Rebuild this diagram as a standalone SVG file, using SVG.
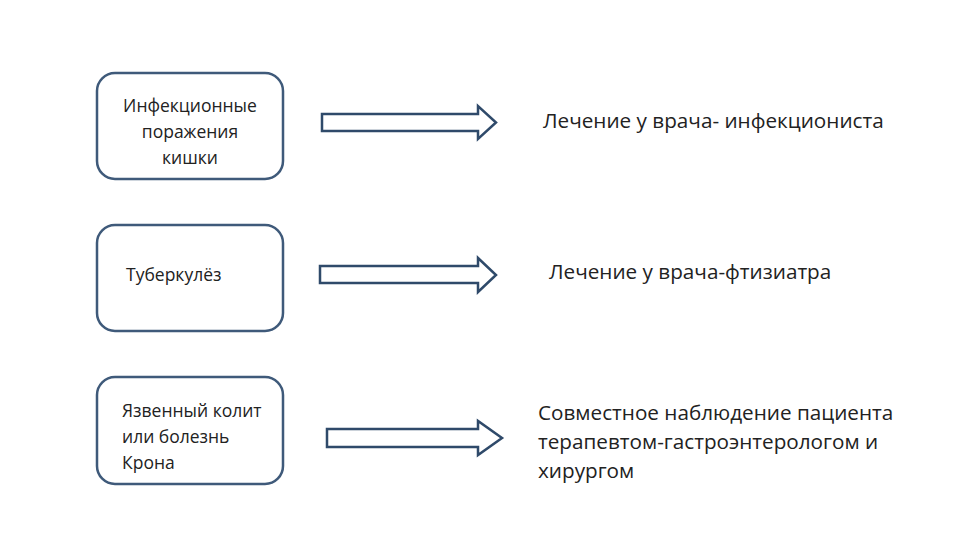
<svg xmlns="http://www.w3.org/2000/svg" width="960" height="540" viewBox="0 0 960 540">
<style>
.box{fill:#fff;stroke:#3f5a7a;stroke-width:2.5}
.arr{fill:#fff;stroke:#2f4a6a;stroke-width:2.5;stroke-linejoin:miter}
text{font-family:"Open Sans","Liberation Sans",sans-serif;fill:#222}
.s{font-size:17.5px}
.b{font-size:20.7px}
</style>
<rect width="960" height="540" fill="#fff"/>
<g id="n1"><rect class="box" x="97" y="73" width="186" height="106" rx="18"/>
<text class="s" text-anchor="middle"><tspan x="190" y="112">Инфекционные</tspan><tspan x="190" y="138">поражения</tspan><tspan x="190" y="164">кишки</tspan></text></g>
<g id="n2"><rect class="box" x="97" y="225" width="186" height="106" rx="18"/>
<text class="s" x="126" y="281">Туберкулёз</text></g>
<g id="n3"><rect class="box" x="97" y="377" width="186" height="107" rx="18"/>
<text class="s"><tspan x="122" y="417">Язвенный колит</tspan><tspan x="122" y="443">или болезнь</tspan><tspan x="122" y="469">Крона</tspan></text></g>
<g id="r1"><text class="b" x="543" y="128">Лечение у врача- инфекциониста</text></g>
<g id="r2"><text class="b" x="549" y="279">Лечение у врача-фтизиатра</text></g>
<g id="r3"><text class="b"><tspan x="538" y="420">Совместное наблюдение пациента</tspan><tspan x="538" y="449">терапевтом-гастроэнтерологом и</tspan><tspan x="538" y="478">хирургом</tspan></text></g>
<g id="connectors">
<polygon class="arr" points="322,114 478,114 478,106 496,122.5 478,139 478,131 322,131"/>
<polygon class="arr" points="320,266 478,266 478,258 496,275 478,292 478,283 320,283"/>
<polygon class="arr" points="327,429 478,429 478,421 502,438 478,455 478,447 327,447"/>
</g>
</svg>
